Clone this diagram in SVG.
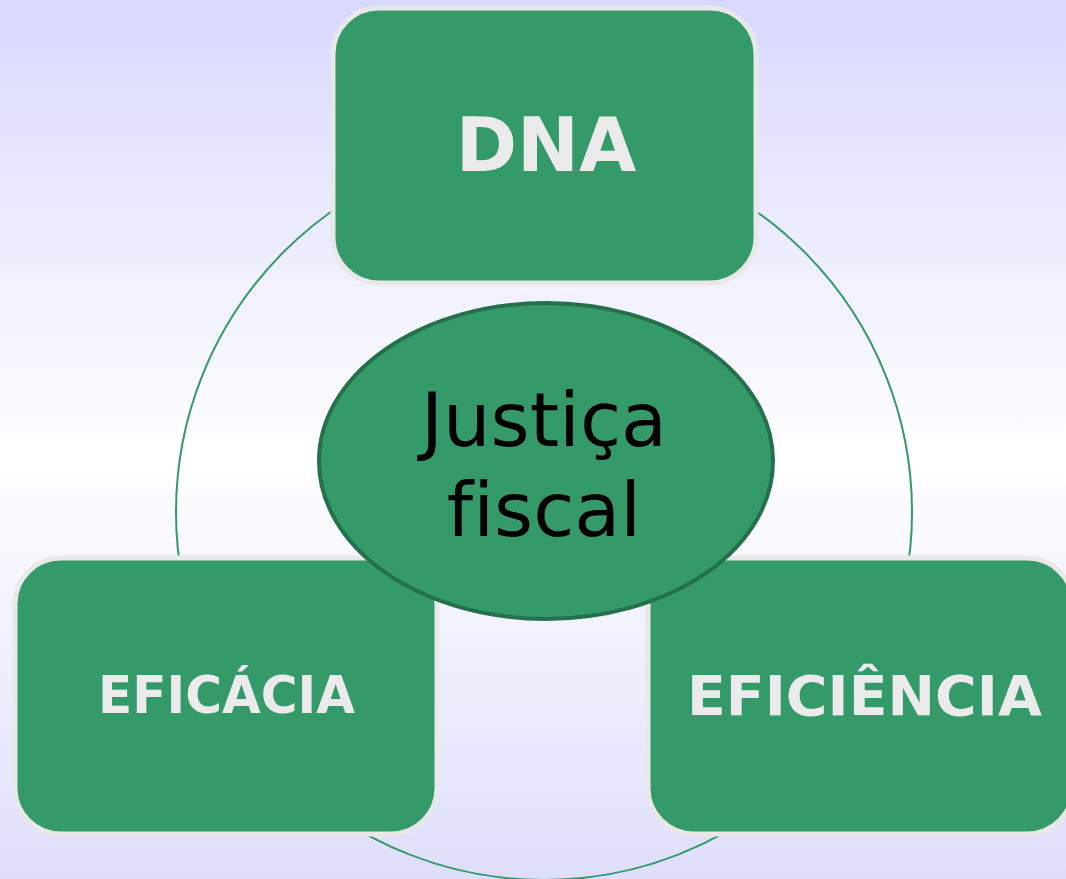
<svg xmlns="http://www.w3.org/2000/svg" width="1066" height="879" viewBox="0 0 1066 879">
<defs>
<linearGradient id="bg" x1="0" y1="0" x2="0" y2="1">
<stop offset="0" stop-color="#d8d8ff"/>
<stop offset="0.52" stop-color="#ffffff"/>
<stop offset="1" stop-color="#dedefb"/>
</linearGradient>
<style>
.box{fill:#359a69;stroke:#e8e8e8;stroke-width:5}
.lbl{font-family:"DejaVu Sans",Verdana,sans-serif;font-weight:bold;fill:#ebebeb;text-anchor:middle}
.ring{fill:none;stroke:#359a69;stroke-width:2}
.ctr{font-family:"DejaVu Sans",Verdana,sans-serif;font-size:75px;fill:#000;text-anchor:middle;font-variant-ligatures:none;font-feature-settings:"liga" 0}
</style>
</defs>
<rect x="0" y="0" width="1066" height="879" fill="url(#bg)"/>
<g id="connectors">
<circle class="ring" cx="544" cy="512" r="368"/>
</g>
<g id="node-dna">
<rect class="box" x="333" y="8" width="423" height="275" rx="46"/>
<text class="lbl" x="546" y="171" font-size="74">DNA</text>
</g>
<g id="node-eficacia">
<rect class="box" x="15" y="558" width="422" height="276" rx="46"/>
<text class="lbl" x="226.5" y="713" font-size="51" textLength="257" lengthAdjust="spacingAndGlyphs">EFICÁCIA</text>
</g>
<g id="node-eficiencia">
<rect class="box" x="648" y="558" width="425" height="276" rx="46"/>
<text class="lbl" x="864.5" y="715" font-size="55" textLength="355" lengthAdjust="spacingAndGlyphs">EFICIÊNCIA</text>
</g>
<g id="node-justica">
<ellipse cx="546" cy="461" rx="227" ry="158" fill="#359a69" stroke="#24704a" stroke-width="4"/>
<text class="ctr" x="544" y="446">Justiça</text>
<text class="ctr" x="544" y="536">fiscal</text>
</g>
</svg>
